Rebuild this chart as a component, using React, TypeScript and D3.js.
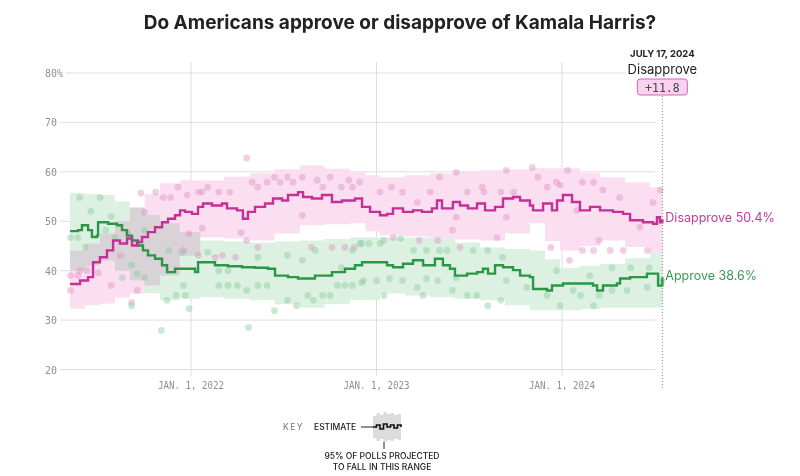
import React from 'react';
import * as d3 from 'd3';

const TITLE = 'Do Americans approve or disapprove of Kamala Harris?';
const yTicks = [20, 30, 40, 50, 60, 70, 80];
const xTicks = [2022, 2023, 2024];
const xTickLabels = ['JAN. 1, 2022', 'JAN. 1, 2023', 'JAN. 1, 2024'];
const endDate = 2024.541;
const endLabel = 'JULY 17, 2024';
const leaderLabel = 'Disapprove';
const netLabel = '+11.8';
const finalDisapprove = 50.4;
const finalApprove = 38.6;

// [decimal year, value]
const disapproveEstimate: [number, number][] = [
  [2021.348, 37.3], [2021.402, 38.0], [2021.445, 38.7], [2021.472, 41.7], [2021.509, 42.7],
  [2021.547, 44.1], [2021.580, 46.1], [2021.617, 45.5], [2021.655, 46.5], [2021.682, 45.1],
  [2021.709, 45.8], [2021.736, 46.8], [2021.768, 47.8], [2021.806, 48.8], [2021.844, 49.8],
  [2021.876, 50.5], [2021.914, 51.2], [2021.941, 52.2], [2021.968, 51.9], [2022.005, 51.5],
  [2022.038, 52.9], [2022.065, 53.6], [2022.113, 53.2], [2022.167, 53.6], [2022.194, 52.6],
  [2022.248, 52.2], [2022.280, 50.5], [2022.307, 51.9], [2022.345, 52.9], [2022.399, 53.6],
  [2022.442, 54.6], [2022.491, 54.2], [2022.523, 55.3], [2022.577, 55.9], [2022.604, 54.9],
  [2022.652, 54.6], [2022.706, 55.3], [2022.760, 53.9], [2022.814, 54.2], [2022.884, 54.6],
  [2022.922, 52.9], [2022.965, 51.9], [2023.019, 51.2], [2023.057, 51.5], [2023.089, 52.6],
  [2023.143, 51.9], [2023.197, 52.2], [2023.245, 51.9], [2023.299, 52.6], [2023.326, 54.2],
  [2023.353, 52.6], [2023.412, 53.9], [2023.450, 53.2], [2023.493, 52.6], [2023.542, 53.6],
  [2023.585, 52.2], [2023.639, 52.9], [2023.682, 54.6], [2023.736, 54.9], [2023.774, 54.2],
  [2023.827, 53.2], [2023.844, 52.2], [2023.898, 53.6], [2023.946, 52.2], [2023.973, 54.2],
  [2024.005, 55.3], [2024.054, 53.9], [2024.097, 52.2], [2024.151, 52.9], [2024.205, 52.2],
  [2024.275, 51.9], [2024.329, 51.5], [2024.367, 50.2], [2024.437, 49.8], [2024.491, 49.5],
  [2024.512, 50.8], [2024.528, 49.8], [2024.541, 50.4],
];

const approveEstimate: [number, number][] = [
  [2021.348, 48.0], [2021.391, 48.2], [2021.412, 49.2], [2021.445, 48.2], [2021.466, 46.8],
  [2021.493, 47.1], [2021.499, 49.8], [2021.553, 49.5], [2021.601, 49.2], [2021.628, 48.2],
  [2021.655, 47.1], [2021.682, 46.1], [2021.714, 45.1], [2021.741, 44.1], [2021.768, 43.1],
  [2021.806, 42.4], [2021.844, 41.1], [2021.871, 39.7], [2021.914, 40.4], [2022.022, 39.7],
  [2022.038, 41.7], [2022.129, 41.1], [2022.199, 40.9], [2022.275, 40.7], [2022.345, 40.6],
  [2022.415, 40.4], [2022.453, 39.0], [2022.523, 38.7], [2022.577, 38.4], [2022.668, 39.0],
  [2022.760, 39.7], [2022.830, 40.4], [2022.884, 41.1], [2022.922, 41.7], [2023.057, 41.1],
  [2023.089, 40.7], [2023.143, 41.4], [2023.197, 42.1], [2023.251, 41.1], [2023.315, 42.4],
  [2023.358, 41.1], [2023.396, 40.4], [2023.423, 39.0], [2023.488, 39.4], [2023.542, 39.7],
  [2023.574, 40.4], [2023.601, 39.4], [2023.639, 41.1], [2023.682, 40.7], [2023.736, 40.1],
  [2023.774, 39.0], [2023.827, 38.7], [2023.844, 36.3], [2023.919, 36.0], [2023.946, 37.0],
  [2024.005, 37.4], [2024.167, 37.0], [2024.189, 36.0], [2024.221, 37.0], [2024.296, 37.4],
  [2024.313, 38.4], [2024.367, 38.7], [2024.458, 39.4], [2024.518, 37.0], [2024.541, 38.6],
];

// [decimal year, low, high] — 95% range of polls
const disapproveBand: [number, number, number][] = [
  [2021.348, 32.3, 44.1], [2021.43, 33.0, 45.5], [2021.509, 33.3, 47.5], [2021.59, 34.5, 50.0],
  [2021.67, 35.4, 52.8], [2021.75, 37.0, 55.5], [2021.833, 39.0, 57.7], [2021.94, 43.0, 58.3],
  [2022.05, 46.7, 58.3], [2022.18, 46.5, 59.0], [2022.318, 46.1, 59.7], [2022.45, 47.5, 60.5],
  [2022.588, 49.2, 61.3], [2022.72, 49.4, 60.6], [2022.857, 49.6, 59.9], [2022.94, 48.0, 59.3],
  [2023.019, 47.1, 58.9], [2023.154, 46.9, 59.3], [2023.288, 46.7, 59.7], [2023.423, 46.3, 60.0],
  [2023.558, 46.1, 60.3], [2023.693, 47.5, 60.5], [2023.827, 49.6, 60.7], [2023.908, 46.0, 60.7],
  [2023.989, 44.1, 60.7], [2024.097, 45.0, 59.8], [2024.205, 46.1, 58.9], [2024.34, 44.8, 57.9],
  [2024.474, 43.5, 56.9], [2024.541, 43.5, 56.9],
];

const approveBand: [number, number, number][] = [
  [2021.348, 40.0, 55.7], [2021.43, 41.0, 55.5], [2021.509, 42.0, 55.3], [2021.59, 40.0, 54.0],
  [2021.67, 38.0, 52.8], [2021.75, 35.5, 51.2], [2021.833, 34.0, 49.6], [2021.94, 34.3, 47.8],
  [2022.05, 34.6, 46.1], [2022.18, 34.3, 45.9], [2022.318, 34.0, 45.7], [2022.45, 33.2, 45.9],
  [2022.588, 32.5, 46.1], [2022.72, 33.2, 46.4], [2022.857, 34.0, 46.7], [2023.019, 35.4, 46.7],
  [2023.154, 35.0, 46.7], [2023.288, 34.6, 46.7], [2023.423, 34.3, 45.7], [2023.558, 34.0, 44.7],
  [2023.693, 33.0, 44.4], [2023.827, 32.0, 44.1], [2023.908, 32.0, 42.3], [2023.989, 32.0, 40.6],
  [2024.097, 32.2, 41.0], [2024.205, 32.5, 41.4], [2024.34, 32.5, 42.5], [2024.474, 32.5, 43.5],
  [2024.541, 32.5, 43.5],
];

// individual polls [decimal year, value]
const disapprovePolls: [number, number][] = [
  [2021.35, 36.0], [2021.35, 39.0], [2021.39, 39.0], [2021.40, 40.0], [2021.44, 40.0], [2021.50, 39.6],
  [2021.57, 37.0], [2021.68, 33.6], [2021.71, 36.0], [2021.73, 55.7], [2021.75, 51.8], [2021.81, 55.9],
  [2021.85, 54.8], [2021.89, 54.8], [2021.93, 56.9], [2021.98, 55.3], [2022.04, 55.9], [2022.06, 55.9],
  [2022.09, 56.9], [2022.15, 55.9], [2022.21, 55.9], [2022.27, 47.7], [2022.30, 62.8], [2022.33, 57.9],
  [2022.36, 56.9], [2022.41, 57.9], [2022.45, 58.9], [2022.48, 57.9], [2022.52, 58.9], [2022.55, 57.9],
  [2022.60, 58.9], [2022.60, 51.2], [2022.68, 58.3], [2022.71, 56.9], [2022.75, 58.9], [2022.81, 56.9],
  [2022.85, 58.3], [2022.87, 56.9], [2022.91, 57.9], [2022.06, 48.6], [2021.99, 47.5], [2022.30, 46.1],
  [2022.36, 44.7], [2022.65, 44.7], [2022.76, 44.7], [2022.83, 44.7], [2022.88, 44.7], [2022.24, 42.7],
  [2022.17, 43.1], [2022.13, 42.7], [2022.04, 43.1], [2021.96, 44.1], [2021.62, 43.0], [2021.66, 47.5],
  [2023.02, 55.9], [2023.08, 56.9], [2023.14, 55.9], [2023.22, 53.8], [2023.29, 55.9], [2023.34, 58.9],
  [2023.43, 59.9], [2023.49, 55.9], [2023.57, 56.9], [2023.58, 55.9], [2023.67, 55.9], [2023.70, 60.3],
  [2023.74, 55.9], [2023.84, 60.9], [2023.87, 58.9], [2023.92, 56.9], [2023.97, 57.9], [2023.99, 57.3],
  [2024.03, 60.3], [2024.08, 52.2], [2024.11, 57.9], [2024.17, 57.9], [2024.22, 56.3], [2024.31, 54.8],
  [2024.49, 53.8], [2024.53, 56.3], [2023.43, 50.8], [2023.70, 50.8], [2023.41, 48.2], [2023.65, 46.7],
  [2023.94, 44.7], [2024.11, 44.1], [2024.17, 44.1], [2024.26, 44.1], [2024.33, 44.1], [2024.46, 44.1],
  [2024.04, 42.1], [2024.20, 46.1], [2024.42, 48.8], [2023.09, 46.7], [2023.23, 46.1], [2023.33, 46.1],
  [2023.45, 44.7],
];

const approvePolls: [number, number][] = [
  [2021.40, 54.8], [2021.51, 54.8], [2021.35, 46.7], [2021.39, 46.7], [2021.43, 44.7], [2021.63, 38.6],
  [2021.68, 32.9], [2021.84, 27.9], [2021.99, 32.3], [2021.92, 35.0], [2021.97, 35.0], [2021.87, 34.0],
  [2021.96, 37.0], [2022.15, 37.0], [2022.20, 37.0], [2022.25, 37.0], [2022.30, 36.0], [2022.31, 28.5],
  [2022.36, 37.0], [2022.41, 37.0], [2022.45, 31.9], [2022.52, 34.0], [2022.57, 32.9], [2022.63, 35.0],
  [2022.66, 34.0], [2022.71, 35.0], [2022.75, 35.0], [2022.79, 37.0], [2022.83, 37.0], [2022.87, 37.0],
  [2022.92, 37.6], [2022.15, 40.0], [2022.20, 40.0], [2022.36, 42.7], [2022.52, 43.1], [2022.60, 42.1],
  [2022.67, 44.1], [2022.81, 40.6], [2022.87, 44.1], [2022.92, 45.5], [2022.09, 43.7], [2021.95, 43.7],
  [2021.88, 44.1], [2021.54, 48.2], [2021.59, 46.7], [2021.75, 48.2], [2021.71, 39.4], [2021.68, 41.1],
  [2021.75, 38.6], [2021.46, 52.0], [2021.57, 51.0],
  [2022.91, 45.5], [2022.96, 45.5], [2023.02, 45.5], [2023.13, 46.5], [2023.20, 44.1], [2023.27, 44.1],
  [2023.34, 44.1], [2023.38, 44.1], [2023.52, 44.1], [2023.60, 44.1], [2023.68, 42.7], [2022.93, 38.0],
  [2023.00, 38.0], [2023.07, 38.4], [2023.14, 38.0], [2023.22, 36.6], [2023.27, 38.4], [2023.33, 38.0],
  [2023.41, 36.0], [2023.43, 38.6], [2023.49, 35.0], [2023.54, 35.0], [2023.60, 32.9], [2023.67, 34.0],
  [2023.70, 38.0], [2023.81, 36.6], [2023.92, 35.0], [2023.99, 32.9], [2024.06, 36.0], [2024.10, 35.0],
  [2024.17, 32.9], [2024.20, 35.0], [2024.27, 36.0], [2024.35, 36.0], [2024.46, 36.6], [2024.47, 40.6],
  [2024.54, 38.0], [2023.97, 40.0], [2024.15, 39.0], [2024.27, 40.6], [2024.37, 40.6], [2023.04, 35.0],
  [2023.25, 35.0], [2023.04, 46.1],
];

// key glyph: estimate wiggle (relative units) and band half-heights
const keyWiggle = [0, 1, -1, 1.5, 0, 1, -0.5, 1, 0];
const keyBandHalf = [11, 14, 12, 15, 13, 14, 12, 13, 11];

const COLORS = {
  dis: '#c62f97',
  disText: '#c13c9c',
  disBand: '#fbdff1',
  disDot: '#dc8cc0',
  app: '#2a9646',
  appText: '#3a9a50',
  appBand: '#ddf1e3',
  appDot: '#8ccc9c',
  grid: '#dedede',
  tick: '#8f8f8f',
};

const MONO = "'DejaVu Sans Mono', 'Liberation Mono', monospace";
const SANS = "Inter, 'Noto Sans', 'DejaVu Sans', sans-serif";

export default function App() {
  const W = 800;
  const H = 476;
  const x = d3.scaleLinear().domain([2022, 2024]).range([191, 562]);
  const y = d3.scaleLinear().domain([20, 80]).range([369.5, 73]);
  const xEnd = x(endDate);
  const gridRight = 655;

  const line = d3
    .line<[number, number]>()
    .x((d) => x(d[0]))
    .y((d) => y(d[1]))
    .curve(d3.curveStepAfter);
  const band = d3
    .area<[number, number, number]>()
    .x((d) => x(d[0]))
    .y0((d) => y(d[1]))
    .y1((d) => y(d[2]))
    .curve(d3.curveStepAfter);

  // key glyph scales
  const kx = d3.scaleLinear().domain([0, keyWiggle.length - 1]).range([373, 401]);
  const kyMid = 427;
  const keyLine = d3
    .line<number>()
    .x((_, i) => kx(i))
    .y((d) => kyMid - d * 2)
    .curve(d3.curveStepAfter);
  const keyArea = d3
    .area<number>()
    .x((_, i) => kx(i))
    .y0((d) => kyMid + d)
    .y1((d) => kyMid - d)
    .curve(d3.curveStepAfter);

  const charW = 6.0;

  return (
    <svg
      width={W}
      height={H}
      style={{ position: 'absolute', left: 0, top: 0, background: '#fff', display: 'block' }}
    >
      <rect x={0} y={0} width={W} height={H} fill="#fff" />
      <text
        x={400}
        y={29}
        textAnchor="middle"
        fontFamily={SANS}
        fontWeight={700}
        fontSize={19}
        fill="#222"
      >
        {TITLE}
      </text>

      {/* horizontal gridlines + y labels */}
      {yTicks.map((t) => {
        const label = t === 80 ? '80%' : String(t);
        const w = label.length * charW;
        return (
          <g key={t}>
            <line x1={45 + w + 3} x2={gridRight} y1={y(t)} y2={y(t)} stroke={COLORS.grid} strokeWidth={1} />
            <text
              x={45}
              y={y(t) + 4}
              fontFamily={MONO}
              fontSize={11}
              fill={COLORS.tick}
              textLength={w}
              lengthAdjust="spacingAndGlyphs"
            >
              {label}
            </text>
          </g>
        );
      })}

      {/* vertical gridlines + x labels */}
      {xTicks.map((t, i) => (
        <g key={t}>
          <line x1={x(t)} x2={x(t)} y1={62} y2={376} stroke={COLORS.grid} strokeWidth={1} />
          <text
            x={x(t)}
            y={389}
            textAnchor="middle"
            fontFamily={MONO}
            fontSize={11}
            fill={COLORS.tick}
            textLength={66}
            lengthAdjust="spacingAndGlyphs"
          >
            {xTickLabels[i]}
          </text>
        </g>
      ))}

      {/* bands */}
      <g style={{ isolation: 'isolate' }}>
        <path d={band(disapproveBand) || ''} fill={COLORS.disBand} style={{ mixBlendMode: 'multiply' }} />
        <path d={band(approveBand) || ''} fill={COLORS.appBand} style={{ mixBlendMode: 'multiply' }} />
      </g>

      {/* polls */}
      {disapprovePolls.map((d, i) => (
        <circle key={'dp' + i} cx={x(d[0])} cy={y(d[1])} r={3.4} fill={COLORS.disDot} fillOpacity={0.42} />
      ))}
      {approvePolls.map((d, i) => (
        <circle key={'ap' + i} cx={x(d[0])} cy={y(d[1])} r={3.4} fill={COLORS.appDot} fillOpacity={0.45} />
      ))}

      {/* estimate lines */}
      <path d={line(approveEstimate) || ''} fill="none" stroke={COLORS.app} strokeWidth={2.4} />
      <path d={line(disapproveEstimate) || ''} fill="none" stroke={COLORS.dis} strokeWidth={2.4} />

      {/* end marker */}
      <line x1={xEnd} x2={xEnd} y1={96} y2={388} stroke="#888" strokeWidth={1} strokeDasharray="1,2" />
      <rect x={626} y={60} width={72} height={17} fill="#fff" />
      <text x={xEnd} y={57} textAnchor="middle" fontFamily={SANS} fontWeight={700} fontSize={9.5} fill="#222">
        {endLabel}
      </text>
      <text x={xEnd} y={74} textAnchor="middle" fontFamily={SANS} fontSize={13} fill="#222">
        {leaderLabel}
      </text>
      <rect x={xEnd - 25} y={79} width={50} height={16} rx={3} fill="#f8d2ee" stroke="#d563b9" strokeWidth={1} />
      <text x={xEnd} y={91.5} textAnchor="middle" fontFamily={MONO} fontSize={11.5} fill="#444">
        {netLabel}
      </text>

      {/* end labels */}
      <text x={xEnd + 3} y={y(finalDisapprove) + 2.5} fontFamily={SANS} fontSize={12.5} fill={COLORS.disText}>
        {`Disapprove ${finalDisapprove}%`}
      </text>
      <text x={xEnd + 3} y={y(finalApprove) + 2.5} fontFamily={SANS} fontSize={12.5} fill={COLORS.appText}>
        {`Approve ${finalApprove}%`}
      </text>

      {/* key */}
      <text x={283} y={430} fontFamily={SANS} fontSize={8.5} letterSpacing={1.5} fill="#777">
        KEY
      </text>
      <text x={314} y={430} fontFamily={SANS} fontSize={8.5} fontWeight={500} fill="#222">
        ESTIMATE
      </text>
      <line x1={361} x2={373} y1={kyMid} y2={kyMid} stroke="#222" strokeWidth={1} />
      <path d={keyArea(keyBandHalf) || ''} fill="#dcdcdc" />
      <path d={keyLine(keyWiggle) || ''} fill="none" stroke="#111" strokeWidth={1.6} />
      <line x1={384} x2={384} y1={442} y2={449} stroke="#222" strokeWidth={1} />
      <text x={382} y={459} textAnchor="middle" fontFamily={SANS} fontSize={8.5} fontWeight={500} fill="#222">
        95% OF POLLS PROJECTED
      </text>
      <text x={382} y={470} textAnchor="middle" fontFamily={SANS} fontSize={8.5} fontWeight={500} fill="#222">
        TO FALL IN THIS RANGE
      </text>
    </svg>
  );
}
